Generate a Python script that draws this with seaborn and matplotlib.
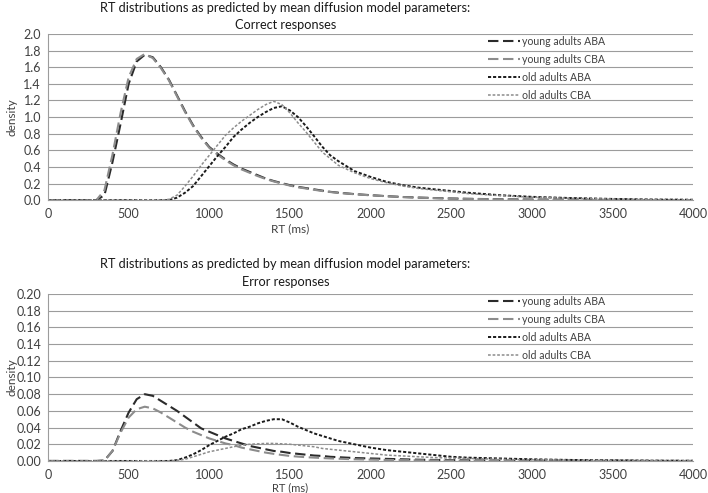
import seaborn as sns
import matplotlib.pyplot as plt
import pandas as pd
from matplotlib.ticker import FormatStrFormatter

# RT grid (ms) shared by every curve
rt = [0, 300, 350, 400, 450, 500, 550, 600, 650, 700, 750, 800, 850, 900, 950,
      1000, 1050, 1100, 1150, 1200, 1250, 1300, 1350, 1400, 1450, 1500, 1550,
      1600, 1650, 1700, 1750, 1800, 1900, 2000, 2100, 2200, 2300, 2400, 2500,
      2600, 2800, 3000, 3250, 3500, 3750, 4000]

# correct responses
corr_young_aba = [0, 0, 0.06, 0.46, 0.92, 1.40, 1.67, 1.75, 1.72, 1.60, 1.45, 1.26,
                  1.07, 0.90, 0.76, 0.64, 0.56, 0.49, 0.43, 0.38, 0.34, 0.30, 0.26,
                  0.23, 0.205, 0.18, 0.16, 0.145, 0.13, 0.115, 0.10, 0.09, 0.073,
                  0.06, 0.048, 0.038, 0.031, 0.025, 0.02, 0.016, 0.011, 0.007,
                  0.004, 0.002, 0.001, 0.001]
corr_young_cba = [0, 0, 0.12, 0.55, 1.05, 1.48, 1.70, 1.76, 1.71, 1.59, 1.44, 1.25,
                  1.06, 0.89, 0.75, 0.63, 0.55, 0.48, 0.42, 0.37, 0.33, 0.29, 0.255,
                  0.225, 0.20, 0.175, 0.155, 0.14, 0.125, 0.11, 0.098, 0.088, 0.071,
                  0.058, 0.047, 0.037, 0.030, 0.024, 0.019, 0.015, 0.010, 0.006,
                  0.004, 0.002, 0.001, 0.001]
corr_old_aba = [0, 0, 0, 0, 0, 0, 0, 0, 0, 0, 0, 0.03, 0.09, 0.17, 0.29, 0.41, 0.53,
                0.64, 0.76, 0.85, 0.93, 1.00, 1.06, 1.11, 1.13, 1.08, 1.00, 0.89,
                0.77, 0.645, 0.54, 0.47, 0.35, 0.28, 0.22, 0.18, 0.15, 0.13, 0.11,
                0.09, 0.06, 0.04, 0.025, 0.015, 0.008, 0.005]
corr_old_cba = [0, 0, 0, 0, 0, 0, 0, 0, 0, 0, 0.01, 0.06, 0.17, 0.29, 0.42, 0.54,
                0.66, 0.78, 0.87, 0.95, 1.02, 1.09, 1.15, 1.19, 1.15, 1.05, 0.93,
                0.82, 0.70, 0.58, 0.50, 0.42, 0.33, 0.26, 0.21, 0.17, 0.14, 0.12,
                0.10, 0.08, 0.055, 0.035, 0.022, 0.013, 0.007, 0.004]

# error responses
err_young_aba = [0, 0, 0.0005, 0.012, 0.036, 0.058, 0.074, 0.080, 0.078, 0.072,
                 0.066, 0.060, 0.053, 0.046, 0.039, 0.035, 0.031, 0.027, 0.024,
                 0.021, 0.018, 0.016, 0.014, 0.012, 0.011, 0.0095, 0.0085, 0.0075,
                 0.0065, 0.006, 0.005, 0.0045, 0.0035, 0.003, 0.0025, 0.002, 0.0015,
                 0.0012, 0.001, 0.0008, 0.0005, 0.0003, 0.0002, 0.0001, 0, 0]
err_young_cba = [0, 0, 0.0005, 0.012, 0.034, 0.052, 0.062, 0.065, 0.063, 0.058,
                 0.052, 0.046, 0.040, 0.035, 0.031, 0.027, 0.024, 0.021, 0.019,
                 0.016, 0.014, 0.012, 0.010, 0.0085, 0.0072, 0.006, 0.0052, 0.0045,
                 0.004, 0.0035, 0.003, 0.0027, 0.002, 0.0016, 0.0012, 0.001, 0.0008,
                 0.0006, 0.0005, 0.0004, 0.0002, 0.0001, 0, 0, 0, 0]
err_old_aba = [0, 0, 0, 0, 0, 0, 0, 0, 0, 0, 0, 0.001, 0.004, 0.008, 0.013, 0.019,
               0.024, 0.029, 0.033, 0.038, 0.041, 0.045, 0.048, 0.050, 0.050, 0.046,
               0.041, 0.037, 0.033, 0.030, 0.027, 0.024, 0.020, 0.016, 0.013, 0.011,
               0.009, 0.007, 0.005, 0.004, 0.003, 0.002, 0.0012, 0.0008, 0.0004,
               0.0002]
err_old_cba = [0, 0, 0, 0, 0, 0, 0, 0, 0, 0, 0, 0.0007, 0.002, 0.005, 0.008, 0.011,
               0.013, 0.015, 0.017, 0.019, 0.020, 0.0205, 0.021, 0.021, 0.0205,
               0.020, 0.019, 0.018, 0.017, 0.015, 0.014, 0.013, 0.011, 0.009, 0.007,
               0.006, 0.005, 0.004, 0.0035, 0.003, 0.002, 0.0015, 0.001, 0.0006,
               0.0003, 0.0002]

labels = ["young adults ABA", "young adults CBA", "old adults ABA", "old adults CBA"]
colors = ["#2b2b2b", "#8c8c8c", "#1a1a1a", "#8c8c8c"]
styles = [(0, (5, 2.2)), (0, (5, 2.2)), (0, (1.6, 1.0)), (0, (1.8, 1.2))]
widths = [1.5, 1.5, 1.4, 1.1]

sns.set_theme(style="white")
plt.rcParams['font.family'] = ['Lato', 'DejaVu Sans']
txt = "#404040"

fig = plt.figure(figsize=(7.08, 4.93), dpi=100)
ax1 = fig.add_axes([0.0678, 0.594, 0.9112, 0.337])
ax2 = fig.add_axes([0.0678, 0.065, 0.9112, 0.3386])


def draw(ax, series, ymax, ystep, fmt, title2, t1_y, t2_y, xlab_y, xlab_size):
    for s, lab, c, ls, lw in zip(series, labels, colors, styles, widths):
        df = pd.DataFrame({"rt": rt, "density": s})
        sns.lineplot(data=df, x="rt", y="density", ax=ax, color=c, linestyle=ls,
                     linewidth=lw, label=lab)
    ax.set_xlim(0, 4000)
    ax.set_ylim(0, ymax)
    ax.set_xticks(range(0, 4001, 500))
    yt = [i * ystep for i in range(11)]
    ax.set_yticks(yt)
    ax.yaxis.set_major_formatter(FormatStrFormatter(fmt))
    ax.grid(axis="y", color="#9c9c9c", linewidth=0.8)
    ax.set_axisbelow(True)
    for sp in ["top", "right"]:
        ax.spines[sp].set_visible(False)
    for sp in ["left", "bottom"]:
        ax.spines[sp].set_color("#9c9c9c")
        ax.spines[sp].set_linewidth(0.8)
    ax.tick_params(axis="both", colors=txt, labelsize=9, length=3, width=0.8,
                   direction="out", pad=3)
    ax.tick_params(axis="x", color="#9c9c9c")
    ax.tick_params(axis="y", length=0, pad=5)
    ax.set_xlabel("RT (ms)", fontsize=xlab_size, color=txt, va="center")
    ax.xaxis.set_label_coords(0.375, xlab_y)
    ax.set_ylabel("density", fontsize=8.5, color=txt, va="center")
    ax.yaxis.set_label_coords(-0.056, 0.5)
    leg = ax.legend(loc="upper left", bbox_to_anchor=(0.682, 0.99), frameon=False,
                    fontsize=7.6, handlelength=3.0, handletextpad=0.25,
                    labelspacing=0.66, borderaxespad=0, borderpad=0)
    for t in leg.get_texts():
        t.set_color(txt)
    fig.text(0.403, t1_y, "RT distributions as predicted by mean diffusion model parameters:",
             ha="center", va="center", fontsize=9.2, color="#1a1a1a")
    fig.text(0.403, t2_y, title2, ha="center", va="center",
             fontsize=9.2, color="#1a1a1a")


draw(ax1, [corr_young_aba, corr_young_cba, corr_old_aba, corr_old_cba],
     2.0, 0.2, "%.1f", "Correct responses", 0.983, 0.949, -0.175, 8.5)
draw(ax2, [err_young_aba, err_young_cba, err_old_aba, err_old_cba],
     0.20, 0.02, "%.2f", "Error responses", 0.4645, 0.428, -0.158, 8)

fig.savefig("out.png", dpi=100)
